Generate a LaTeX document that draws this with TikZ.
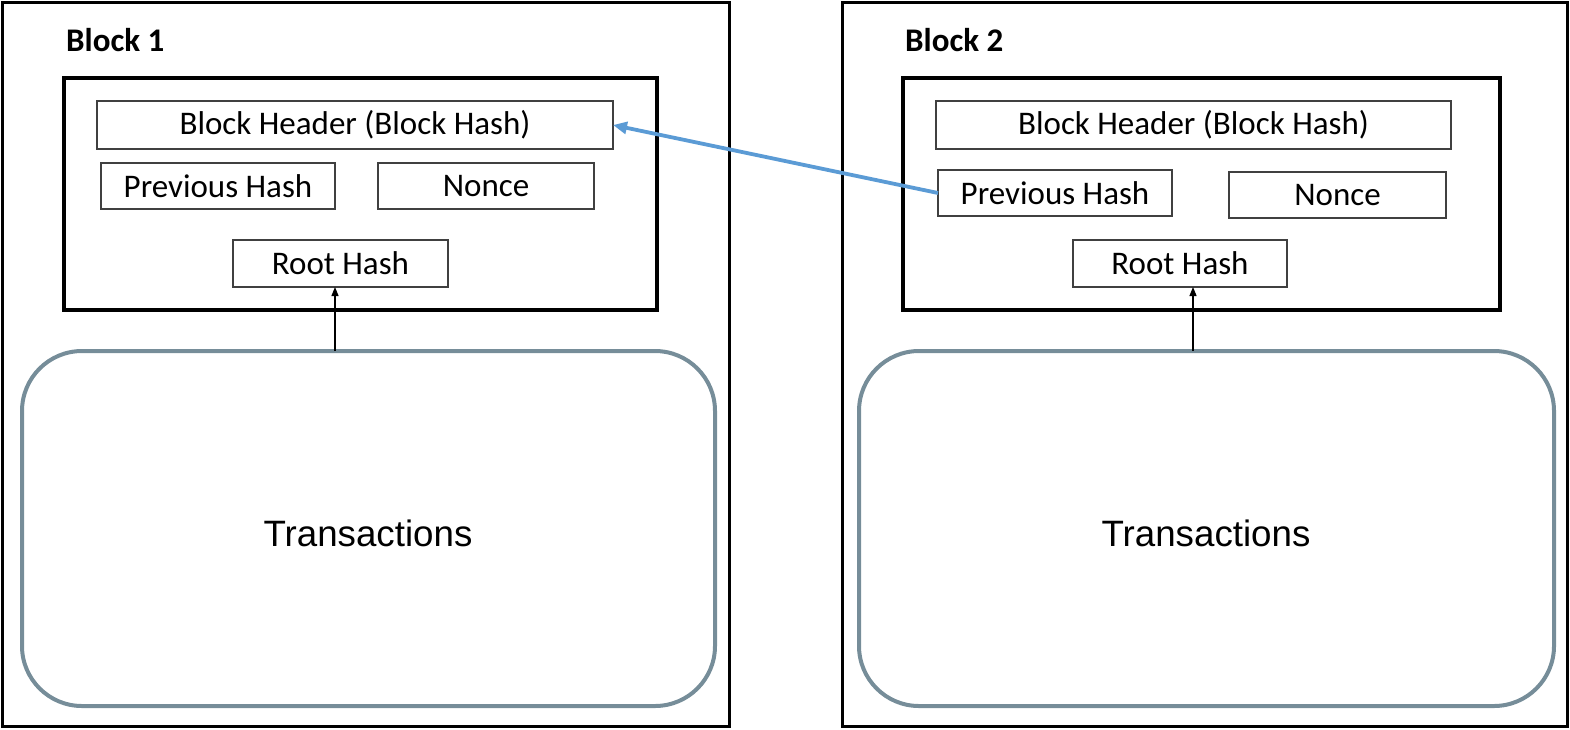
\documentclass[tikz,border=0pt]{standalone}
\usepackage{fontspec}
\setmainfont{Carlito}
\newfontfamily\txfont{Liberation Sans}
\usetikzlibrary{arrows.meta}

\definecolor{fieldline}{HTML}{404040}
\definecolor{txline}{HTML}{768D99}
\definecolor{linkblue}{HTML}{5B9BD5}

\begin{document}
\begin{tikzpicture}[x=1pt,y=-1pt,
  blockframe/.style={draw=black, line width=3pt, inner sep=0pt, outer sep=0pt},
  headerframe/.style={draw=black, line width=4.5pt, inner sep=0pt, outer sep=0pt},
  field/.style={draw=fieldline, line width=1.6pt, inner sep=0pt, outer sep=0pt,
    font=\fontsize{33}{38}\selectfont},
  txbox/.style={draw=txline, line width=4pt, rounded corners=60pt, inner sep=0pt,
    outer sep=0pt, font=\txfont\fontsize{36.7}{42}\selectfont},
  blocklabel/.style={anchor=west, inner sep=0pt, font=\bfseries\fontsize{33}{38}\selectfont},
  feed/.style={draw=black, line width=1.2pt, -{Triangle[length=9pt,width=7pt]}},
  link/.style={draw=linkblue, line width=3.8pt, -{Triangle[length=14pt,width=12pt]}}
]
\useasboundingbox (0,0) rectangle (1570,729);

% ---- Block 1 ----
\node[blockframe, minimum width=727pt, minimum height=724pt] (b1) at (365.5,364) {};
\node[blocklabel] (b1label) at (66,40) {Block 1};
\node[headerframe, minimum width=593pt, minimum height=232pt] (h1) at (360.5,194) {};
\node[field, minimum width=516pt, minimum height=48pt] (hdr1) at (355,125) {\raisebox{-2pt}{Block Header (Block Hash)}};
\node[field, minimum width=234pt, minimum height=46pt] (prev1) at (218,186) {\raisebox{-2pt}{Previous Hash}};
\node[field, minimum width=216pt, minimum height=46pt] (nonce1) at (486,186) {\raisebox{-2pt}{Nonce}};
\node[field, minimum width=215pt, minimum height=47pt] (root1) at (340.5,263.5) {\raisebox{-2pt}{Root Hash}};
\node[txbox, minimum width=693pt, minimum height=355pt] (tx1) at (368.5,528.5) {};
\node[inner sep=0pt, font=\txfont\fontsize{36.7}{42}\selectfont] (tx1label) at (368,533) {Transactions};
\coordinate (feed1) at (335,0);
\draw[feed] (tx1.north -| feed1) -- (root1.south -| feed1);

% ---- Block 2 ----
\node[blockframe, minimum width=725pt, minimum height=724pt] (b2) at (1204.5,364) {};
\node[blocklabel] (b2label) at (905,40) {Block 2};
\node[headerframe, minimum width=597pt, minimum height=232pt] (h2) at (1201.5,194) {};
\node[field, minimum width=515pt, minimum height=48pt] (hdr2) at (1193.5,125) {\raisebox{-2pt}{Block Header (Block Hash)}};
\node[field, minimum width=234pt, minimum height=46pt] (prev2) at (1055,193) {\raisebox{-2pt}{Previous Hash}};
\node[field, minimum width=217pt, minimum height=46pt] (nonce2) at (1337.5,195) {\raisebox{-2pt}{Nonce}};
\node[field, minimum width=214pt, minimum height=47pt] (root2) at (1180,263.5) {\raisebox{-2pt}{Root Hash}};
\node[txbox, minimum width=695pt, minimum height=355pt] (tx2) at (1206.5,528.5) {};
\node[inner sep=0pt, font=\txfont\fontsize{36.7}{42}\selectfont] (tx2label) at (1206,533) {Transactions};
\coordinate (feed2) at (1193,0);
\draw[feed] (tx2.north -| feed2) -- (root2.south -| feed2);

% ---- chain link: previous hash points back to block 1 header ----
\draw[link] (prev2.west) -- (hdr1.east);
\end{tikzpicture}
\end{document}
